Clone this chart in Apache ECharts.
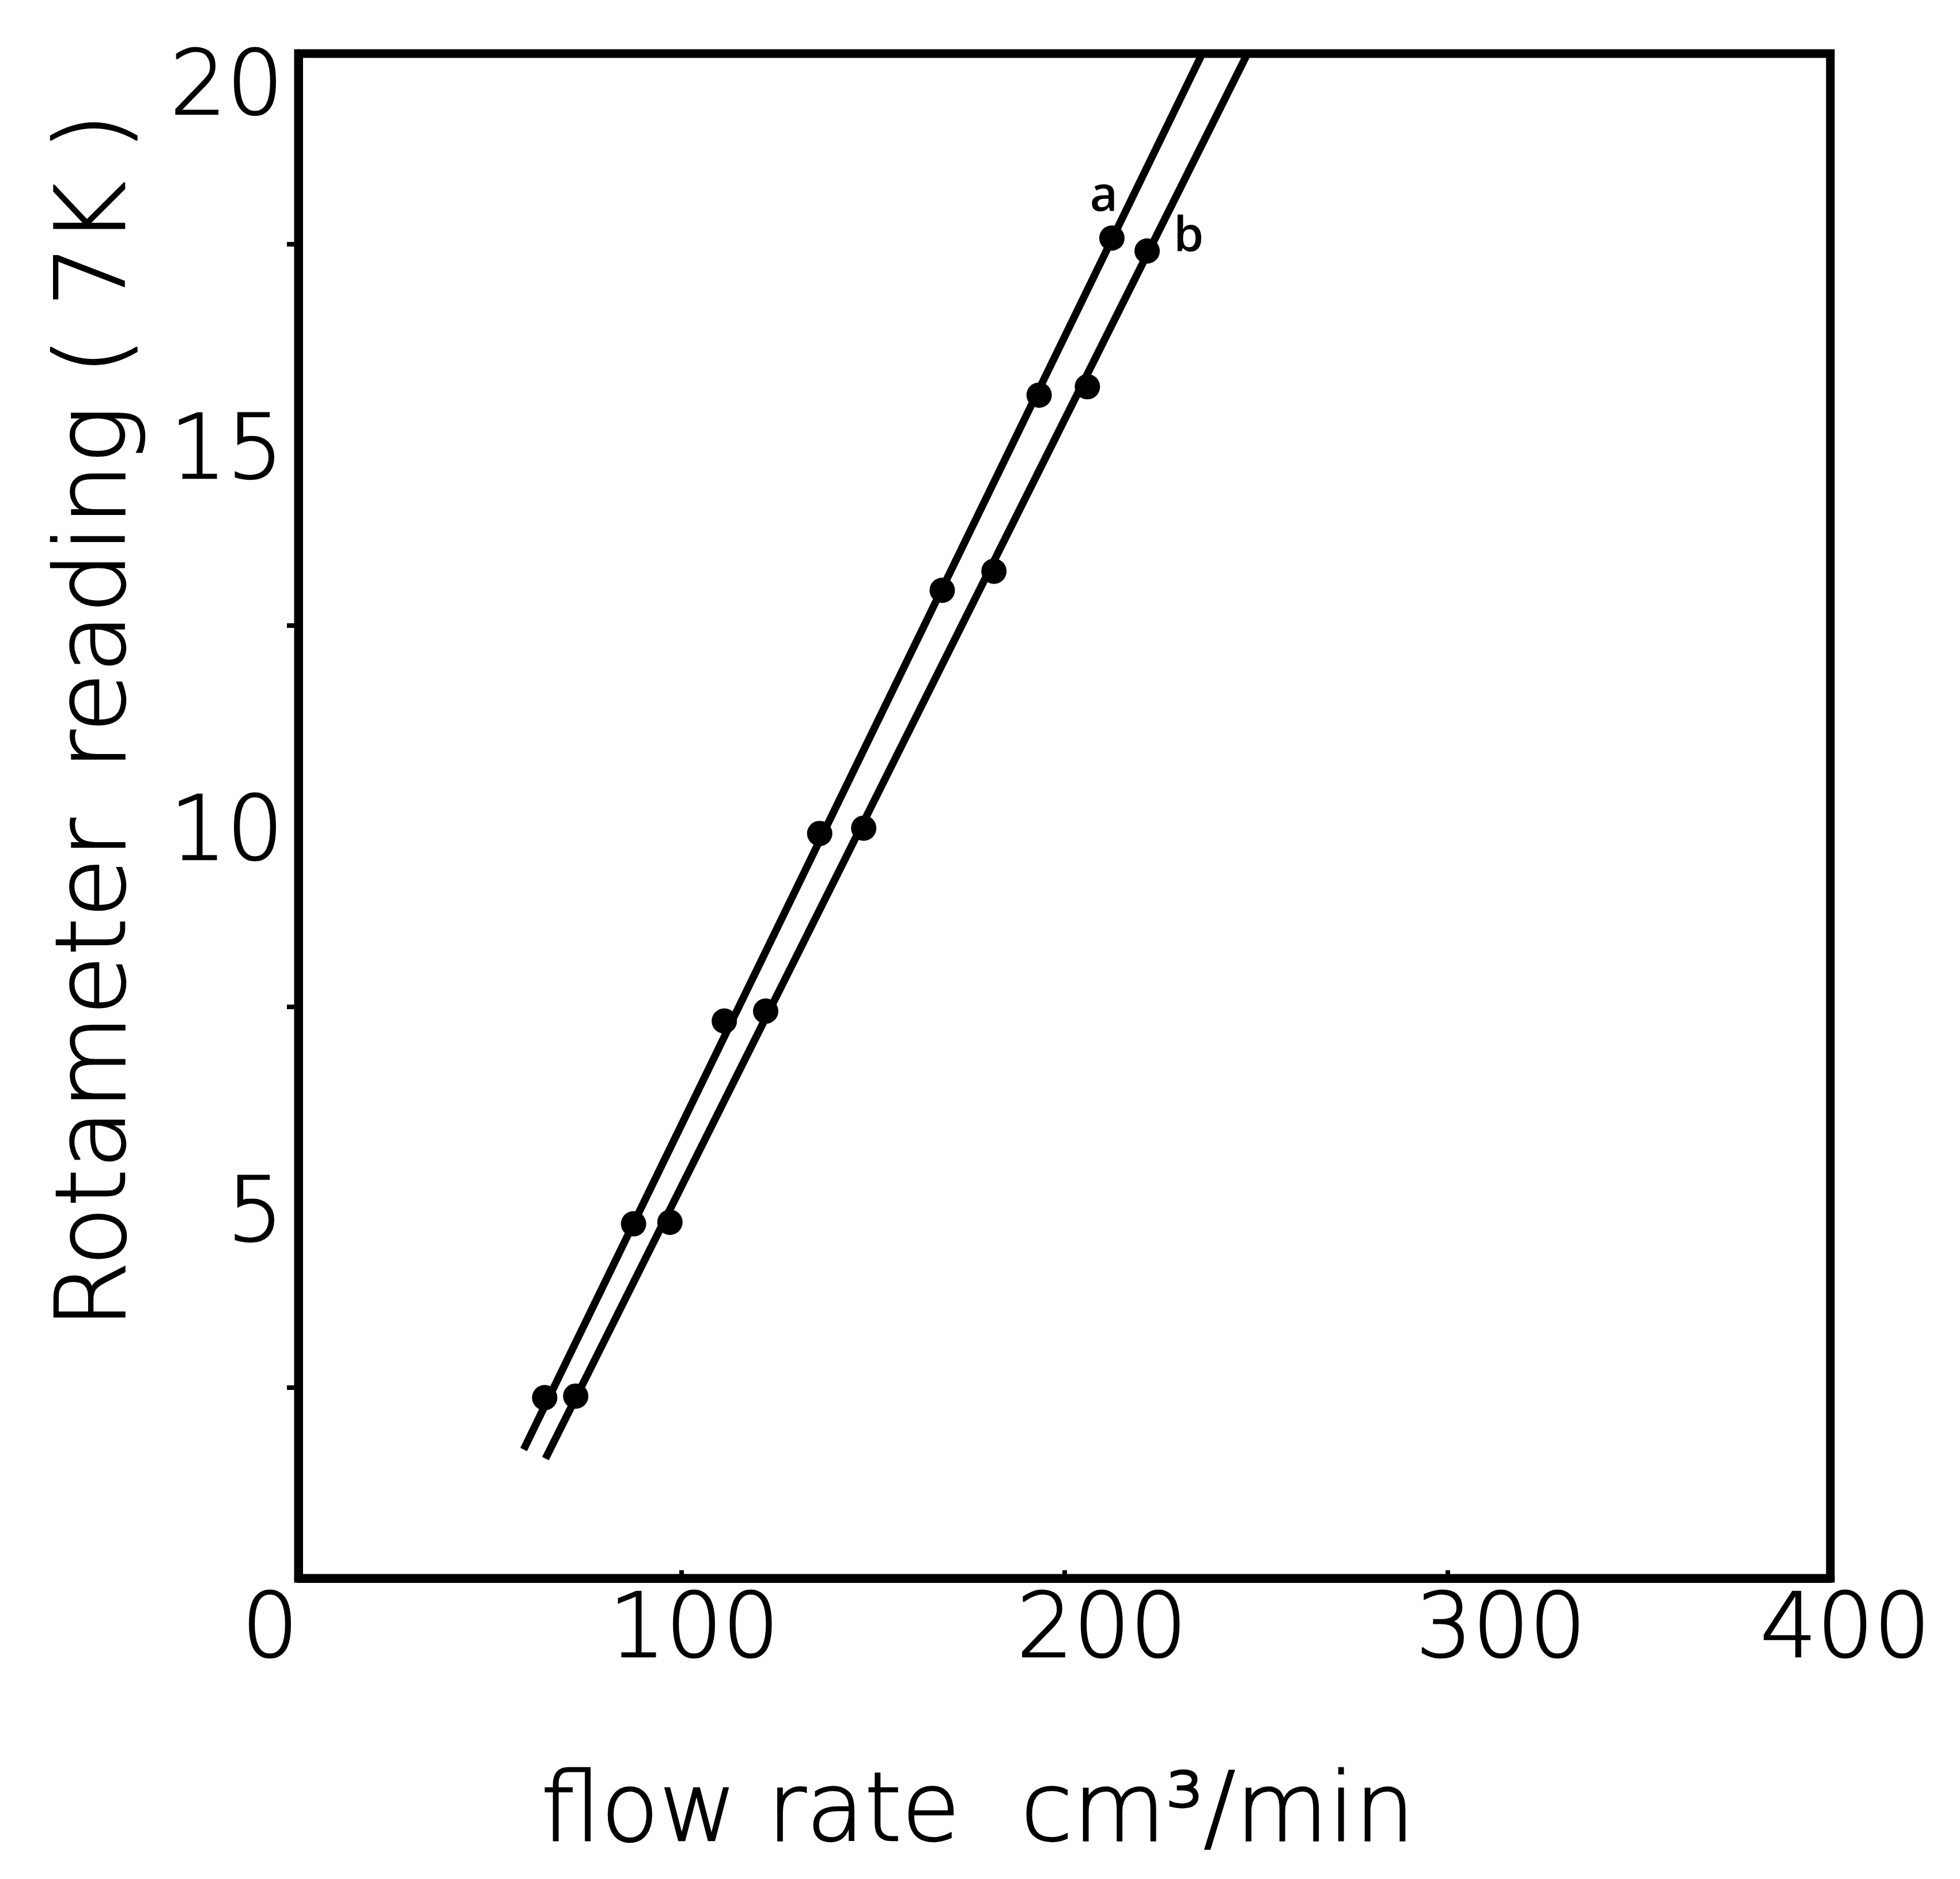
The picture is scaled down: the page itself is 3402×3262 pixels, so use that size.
<!DOCTYPE html>
<html>
<head>
<meta charset="utf-8">
<title>Rotameter calibration</title>
<script src="https://cdn.jsdelivr.net/npm/echarts@6.0.0/dist/echarts.min.js"></script>
<style>
  html, body { margin: 0; padding: 0; background: #ffffff; }
  #chart { width: 3402px; height: 3262px; }
</style>
</head>
<body>
<div id="chart"></div>
<script>
// Calibration runs: flow rate (cm3/min) against rotameter reading
const runA_flow    = [64.3, 87.5, 111.2, 136.1, 168.1, 193.4, 212.4];
const runA_reading = [2.37, 4.65, 7.31, 9.77, 12.96, 15.52, 17.58];
const runB_flow    = [72.4, 97.0, 122.0, 147.6, 181.6, 206.0, 221.6];
const runB_reading = [2.39, 4.67, 7.44, 9.84, 13.21, 15.63, 17.41];

// Straight calibration lines drawn through each run (end points)
const fitA_flow    = [58.8, 236.0];
const fitA_reading = [1.69, 20];
const fitB_flow    = [64.5, 247.8];
const fitB_reading = [1.57, 20];

// Tick labels
const xTickLabels = ['0', '100', '200', '300', '400'];
const yTickLabels = ['5', '10', '15', '20'];
const runNames = ['a', 'b'];

const FONT = "'DejaVu Sans', 'Open Sans', sans-serif";
const SMALL_FONT = "'Open Sans', 'DejaVu Sans', sans-serif";
const INK = '#000000';

// thin lettering, thickened slightly with an outline of the same ink
const lettering = {
  color: INK,
  fontFamily: FONT,
  fontWeight: 200,
  textBorderColor: INK,
  textBorderWidth: 2.5
};

function pairs(xs, ys) {
  return xs.map((x, i) => [x, ys[i]]);
}

// points of a run; the last point carries the run's letter
function runPoints(xs, ys, name, offset) {
  const pts = pairs(xs, ys).map(p => ({ value: p }));
  pts[pts.length - 1].label = {
    show: true,
    formatter: name,
    position: 'inside',
    offset: offset,
    color: INK,
    fontFamily: SMALL_FONT,
    fontSize: 84,
    fontWeight: 600
  };
  return pts;
}

// hand-lettered tick numbers sit a little off their ticks
const xLabelRich = {
  t0: { padding: [0, 0, 0, 0] },
  t1: { padding: [0, 0, 0, 44] },
  t2: { padding: [0, 0, 0, 130] },
  t3: { padding: [0, 0, 0, 186] },
  t4: { padding: [0, 0, 0, 52] }
};
const yLabelRich = {
  n: { padding: [70, 0, 0, 0] },
  top: { padding: [130, 0, 0, 0] }
};

const chart = echarts.init(document.getElementById('chart'), null, { renderer: 'canvas' });

chart.setOption({
  backgroundColor: '#ffffff',
  animation: false,
  grid: {
    left: 518, right: 225, top: 93, bottom: 522,
    show: true,
    borderColor: INK,
    borderWidth: 15,
    backgroundColor: 'transparent'
  },
  xAxis: {
    type: 'value',
    min: 0, max: 400, interval: 100,
    name: 'flow rate  cm³/min',
    nameLocation: 'middle',
    nameGap: 330,
    nameTextStyle: Object.assign({}, lettering, {
      fontSize: 165,
      padding: [0, 300, 0, 0]
    }),
    axisLine: { show: true, lineStyle: { color: INK, width: 15 } },
    axisTick: { show: true, inside: true, length: 14, lineStyle: { color: INK, width: 8 } },
    splitLine: { show: false },
    axisLabel: Object.assign({}, lettering, {
      fontSize: 155, margin: 18,
      alignMinLabel: 'right',
      rich: xLabelRich,
      formatter: v => {
        const i = Math.round(v / 100);
        return '{t' + i + '|' + xTickLabels[i] + '}';
      }
    })
  },
  yAxis: {
    type: 'value',
    min: 0, max: 20, interval: 5,
    name: 'Rotameter\u2002reading ( 7K )',
    nameLocation: 'middle',
    nameGap: 262,
    nameRotate: 90,
    nameTextStyle: Object.assign({}, lettering, {
      fontSize: 168,
      padding: [0, 0, 0, 330]
    }),
    axisLine: { show: true, lineStyle: { color: INK, width: 15 } },
    axisTick: { show: false },
    minorTick: { show: true, splitNumber: 2, length: 20, lineStyle: { color: INK, width: 8 } },
    splitLine: { show: false },
    minorSplitLine: { show: false },
    axisLabel: Object.assign({}, lettering, {
      showMinLabel: false,
      fontSize: 155, margin: 26,
      rich: yLabelRich,
      formatter: v => {
        if (v === 0) return '';
        const i = Math.round(v / 5) - 1;
        return (v === 20 ? '{top|' : '{n|') + yTickLabels[i] + '}';
      }
    })
  },
  series: [
    {
      name: 'a line', type: 'line', data: pairs(fitA_flow, fitA_reading),
      symbol: 'none', lineStyle: { color: INK, width: 13 }, z: 3
    },
    {
      name: 'b line', type: 'line', data: pairs(fitB_flow, fitB_reading),
      symbol: 'none', lineStyle: { color: INK, width: 13 }, z: 3
    },
    {
      name: runNames[0], type: 'scatter',
      data: runPoints(runA_flow, runA_reading, runNames[0], [-14, -71]),
      symbol: 'circle', symbolSize: 44, itemStyle: { color: INK, opacity: 1 }, z: 4
    },
    {
      name: runNames[1], type: 'scatter',
      data: runPoints(runB_flow, runB_reading, runNames[1], [72, -24]),
      symbol: 'circle', symbolSize: 44, itemStyle: { color: INK, opacity: 1 }, z: 4
    }
  ]
});
</script>
</body>
</html>
